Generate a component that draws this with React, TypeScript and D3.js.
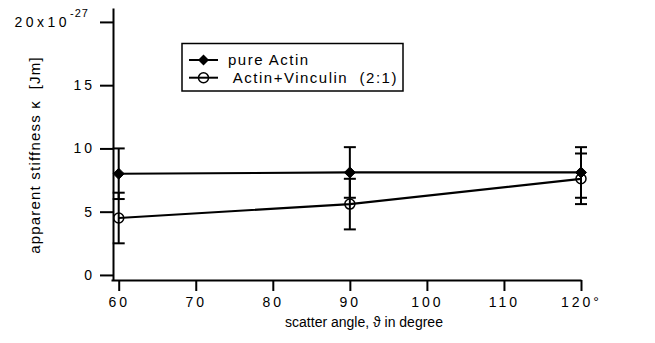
import * as d3 from "d3";
import { useEffect, useRef } from "react";

// scatter angle (degrees)
const angles = [60, 90, 120];
// apparent stiffness, units of 1e-27 Jm
const pureActin = [8.0, 8.1, 8.1];
const pureActinErr = [2.0, 2.0, 2.0];
const actinVinculin = [4.5, 5.6, 7.6];
const actinVinculinErr = [2.0, 2.0, 2.0];

const xTicks = [60, 70, 80, 90, 100, 110, 120];
const xTickLabels = ["60", "70", "80", "90", "100", "110", "120°"];
const yTicks = [0, 5, 10, 15, 20];
const yTickLabels = ["0", "5", "10", "15", "20x10"];

const seriesNames = ["pure Actin", " Actin+Vinculin  (2:1)"];

const FONT = "'Liberation Sans', Arial, Helvetica, sans-serif";

export default function App() {
  const ref = useRef<SVGSVGElement>(null);

  useEffect(() => {
    const svg = d3.select(ref.current);
    svg.selectAll("*").remove();

    const x = d3.scaleLinear().domain([59, 120]).range([111, 581]);
    const y = d3.scaleLinear().domain([-0.4, 21.1]).range([280, 8]);

    // y axis
    const yAxis = svg
      .append("g")
      .attr("transform", "translate(113,0)")
      .call(
        d3
          .axisLeft(y)
          .tickValues(yTicks)
          .tickSize(13)
          .tickSizeOuter(0)
          .tickPadding(5)
          .tickFormat((_, i) => yTickLabels[i])
      );
    yAxis.selectAll("path, line").attr("stroke", "#000").attr("stroke-width", 2);
    yAxis
      .selectAll("text")
      .attr("font-family", FONT)
      .attr("font-size", 14)
      .attr("letter-spacing", 3)
      .attr("fill", "#000");
    yAxis
      .selectAll<SVGTextElement, number>("text")
      .filter((d) => d === 20)
      .attr("dx", -6)
      .attr("letter-spacing", 3.5)
      .append("tspan")
      .attr("dy", "-0.9em")
      .attr("font-size", 11)
      .attr("letter-spacing", 1)
      .text("-27");

    // x axis
    const xAxis = svg
      .append("g")
      .attr("transform", "translate(0,280)")
      .call(
        d3
          .axisBottom(x)
          .tickValues(xTicks)
          .tickSize(11)
          .tickSizeOuter(0)
          .tickPadding(6)
          .tickFormat((_, i) => xTickLabels[i])
      );
    xAxis.selectAll("path, line").attr("stroke", "#000").attr("stroke-width", 2);
    xAxis
      .selectAll("text")
      .attr("font-family", FONT)
      .attr("font-size", 14)
      .attr("letter-spacing", 3)
      .attr("fill", "#000");

    // axis titles
    svg
      .append("text")
      .attr("x", 364)
      .attr("y", 327)
      .attr("text-anchor", "middle")
      .attr("font-family", FONT)
      .attr("font-size", 14)
      .text("scatter angle, ϑ in degree");

    svg
      .append("text")
      .attr("transform", "translate(40,155) rotate(-90)")
      .attr("text-anchor", "middle")
      .attr("font-family", FONT)
      .attr("font-size", 15)
      .attr("letter-spacing", 1.2)
      .attr("xml:space", "preserve")
      .text("apparent stiffness κ  [Jm]");

    const series = [
      { vals: pureActin, errs: pureActinErr, filled: true },
      { vals: actinVinculin, errs: actinVinculinErr, filled: false },
    ];

    const line = d3
      .line<number>()
      .x((_, i) => x(angles[i]))
      .y((d) => y(d));

    const diamond = (cx: number, cy: number, r: number) =>
      `M${cx},${cy - r}L${cx + r},${cy}L${cx},${cy + r}L${cx - r},${cy}Z`;

    series.forEach((s) => {
      svg
        .append("path")
        .datum(s.vals)
        .attr("fill", "none")
        .attr("stroke", "#000")
        .attr("stroke-width", 2.2)
        .attr("d", line);

      const g = svg.append("g").attr("stroke", "#000").attr("stroke-width", 2);
      s.vals.forEach((v, i) => {
        const cx = x(angles[i]);
        const lo = y(v - s.errs[i]);
        const hi = y(v + s.errs[i]);
        g.append("line").attr("x1", cx).attr("x2", cx).attr("y1", lo).attr("y2", hi);
        g.append("line").attr("x1", cx - 6).attr("x2", cx + 6).attr("y1", lo).attr("y2", lo);
        g.append("line").attr("x1", cx - 6).attr("x2", cx + 6).attr("y1", hi).attr("y2", hi);
        if (s.filled) {
          g.append("path").attr("d", diamond(cx, y(v), 5.5)).attr("fill", "#000").attr("stroke-width", 1);
        } else {
          g.append("circle").attr("cx", cx).attr("cy", y(v)).attr("r", 5).attr("fill", "none").attr("stroke-width", 1.5);
        }
      });
    });

    // legend
    const lg = svg.append("g");
    lg.append("rect")
      .attr("x", 182)
      .attr("y", 43.5)
      .attr("width", 221)
      .attr("height", 47.5)
      .attr("fill", "#fff")
      .attr("stroke", "#000")
      .attr("stroke-width", 1.5);
    seriesNames.forEach((name, i) => {
      const ly = 60 + i * 17.7;
      lg.append("line")
        .attr("x1", 189)
        .attr("x2", 218)
        .attr("y1", ly)
        .attr("y2", ly)
        .attr("stroke", "#000")
        .attr("stroke-width", 2);
      if (i === 0) {
        lg.append("path").attr("d", diamond(203.5, ly, 5.5)).attr("fill", "#000");
      } else {
        lg.append("circle")
          .attr("cx", 203.5)
          .attr("cy", ly)
          .attr("r", 5)
          .attr("fill", "none")
          .attr("stroke", "#000")
          .attr("stroke-width", 1.5);
      }
      lg.append("text")
        .attr("x", 228)
        .attr("y", ly + 5)
        .attr("font-family", FONT)
        .attr("font-size", 15)
        .attr("letter-spacing", 1.5)
        .attr("xml:space", "preserve")
        .text(name);
    });
  }, []);

  return (
    <svg
      ref={ref}
      width={655}
      height={343}
      style={{ position: "absolute", left: 0, top: 0, background: "#fff" }}
    />
  );
}
